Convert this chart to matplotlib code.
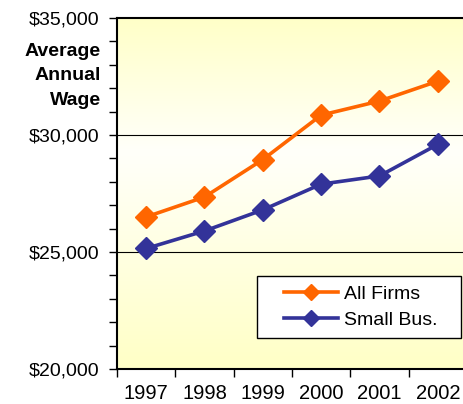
import matplotlib
matplotlib.use("Agg")
import matplotlib.pyplot as plt
import numpy as np
from matplotlib.colors import LinearSegmentedColormap
from matplotlib.patches import Rectangle

years = ["1997", "1998", "1999", "2000", "2001", "2002"]
all_firms = [26500, 27350, 28950, 30850, 31450, 32300]
small_bus = [25150, 25900, 26800, 27900, 28250, 29600]
y_ticks = [20000, 25000, 30000, 35000]
y_tick_labels = ["$20,000", "$25,000", "$30,000", "$35,000"]

plt.rcParams['font.family'] = ['Liberation Sans', 'DejaVu Sans']

fig = plt.figure(figsize=(4.64, 4.04), dpi=100)
ax = fig.add_axes([117/464, 35/404, 350/464, 351/404])

x = np.arange(len(years))
ax.set_xlim(-0.5, len(years) - 0.5)
ax.set_ylim(20000, 35000)

# gradient background
cmap = LinearSegmentedColormap.from_list(
    "bg", [(0.0, "#FFFFC6"), (0.62, "#FFFFFA"), (1.0, "#FFFFC8")])
grad = np.linspace(0, 1, 256).reshape(-1, 1)
ax.imshow(grad, aspect="auto", cmap=cmap, extent=[-0.5, len(years) - 0.5, 35000, 20000],
          zorder=0, origin="upper")

for g in [25000, 30000]:
    ax.axhline(g, color="black", lw=0.8, zorder=1)

ax.plot(x, all_firms, color="#FF6600", lw=2.6, marker="D", markersize=11,
        label="All Firms", zorder=3)
ax.plot(x, small_bus, color="#333399", lw=2.6, marker="D", markersize=11,
        label="Small Bus.", zorder=3)

ax.set_yticks(y_ticks)
ax.set_yticklabels(y_tick_labels, fontsize=14)
ax.set_yticks(np.arange(20000, 35001, 1000), minor=True)
ax.tick_params(axis="y", which="both", direction="out", length=6, width=1, pad=7)

ax.set_xticks(x)
ax.set_xticklabels(years, fontsize=14.5)
ax.set_xticks(np.arange(-0.5, len(years), 1.0), minor=True)
ax.tick_params(axis="x", which="major", length=0, pad=11)
ax.tick_params(axis="x", which="minor", direction="out", length=6, width=1)

for s in ["top", "right"]:
    ax.spines[s].set_visible(False)
ax.spines["left"].set_linewidth(1.5)
ax.spines["bottom"].set_linewidth(1.5)
ax.plot([-0.5, len(years) - 0.5], [35000, 35000], color="black", lw=1.5,
        clip_on=False, zorder=4)

fig.text(101/464, 1 - 76/404, "Average\nAnnual\nWage", ha="right", va="center",
         fontsize=14, fontweight="bold", linespacing=1.6)

# legend box
x0, x1 = (257 - 117) / 350, (461 - 117) / 350
y0, y1 = (369 - 338) / 351, (369 - 276) / 351
ax.add_patch(Rectangle((x0, y0), x1 - x0, y1 - y0, transform=ax.transAxes,
                       facecolor="white", edgecolor="black", lw=1.0, zorder=5))
leg = ax.legend(loc="center", bbox_to_anchor=((x0 + x1) / 2 + 0.005, (y0 + y1) / 2),
                fontsize=14, frameon=False, handlelength=2.8, borderpad=0.2,
                labelspacing=0.45, handletextpad=0.3, borderaxespad=0)
leg.set_zorder(6)
for h in leg.get_lines():
    h.set_markersize(8)

fig.savefig("out.png", dpi=100)
